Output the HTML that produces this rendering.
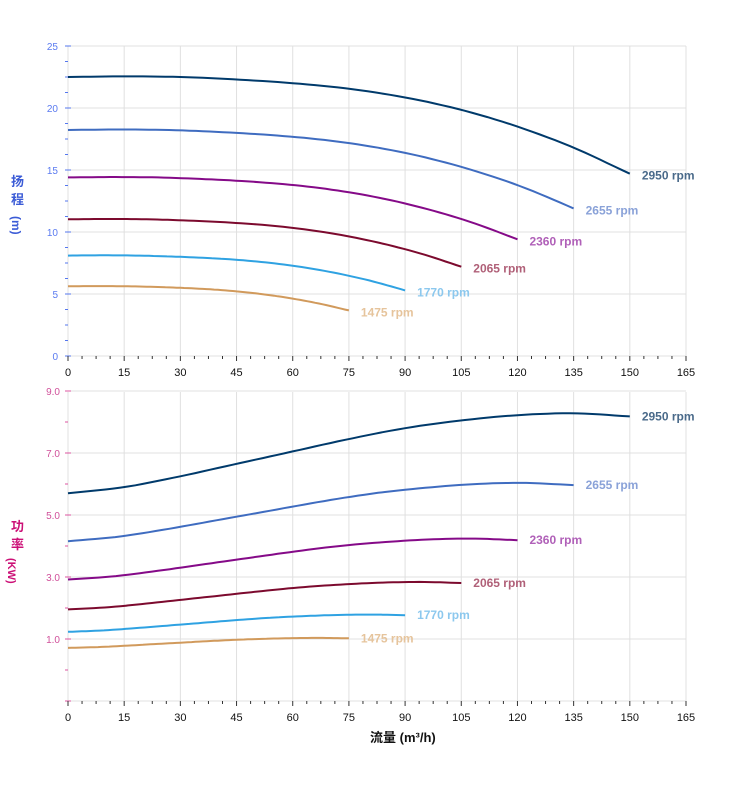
<!DOCTYPE html>
<html><head><meta charset="utf-8"><style>
body{margin:0;background:#fff;}
svg{display:block;font-family:"Liberation Sans","Noto Sans CJK SC",sans-serif;}
</style></head><body>
<svg id="s" width="752" height="797" viewBox="0 0 752 797" xmlns="http://www.w3.org/2000/svg">
<g id="g"></g>
<text x="11" y="186" font-size="13" fill="#3b5bd6" font-weight="bold">扬</text>
<text x="11" y="204" font-size="13" fill="#3b5bd6" font-weight="bold">程</text>
<text transform="translate(12,216) rotate(90)" font-size="12" fill="#3b5bd6" font-weight="bold">(m)</text>
<text x="11" y="531" font-size="13" fill="#cc1177" font-weight="bold">功</text>
<text x="11" y="549" font-size="13" fill="#cc1177" font-weight="bold">率</text>
<text transform="translate(8,558) rotate(90)" font-size="11" fill="#cc1177" font-weight="bold">(KW)</text>
<text x="370" y="742" font-size="13" font-weight="bold" fill="#111">流量 (m³/h)</text>
</svg>
<script>
var g=document.getElementById('g'),h='';
function X(q){return 68+q*618/165;}
function YH(v){return 356-v*310/25;}
function YP(v){return 701-(v+1)*31;}
for(var q=0;q<=165;q+=15){h+='<line x1="'+X(q)+'" y1="46" x2="'+X(q)+'" y2="356" stroke="#e0e0e0"/>';h+='<line x1="'+X(q)+'" y1="392" x2="'+X(q)+'" y2="701" stroke="#e0e0e0"/>';}
for(var v=0;v<=25;v+=5)h+='<line x1="68" y1="'+YH(v)+'" x2="686" y2="'+YH(v)+'" stroke="#e0e0e0"/>';
for(var v=1;v<=9;v+=2)h+='<line x1="68" y1="'+YP(v)+'" x2="686" y2="'+YP(v)+'" stroke="#e0e0e0"/>';
h+='<line x1="68" y1="701" x2="686" y2="701" stroke="#e0e0e0"/>';
for(var v=0;v<=25;v+=1.25){var y=YH(v);h+='<line x1="65" y1="'+y+'" x2="'+(v%5==0?71:68)+'" y2="'+y+'" stroke="#5577ee"/>';}
for(var v=0;v<=25;v+=5)h+='<text x="58" y="'+(YH(v)+4)+'" font-size="10" fill="#5a7af0" text-anchor="end">'+v+'</text>';
for(var v=-1;v<=9;v+=1){var y=YP(v);h+='<line x1="65" y1="'+y+'" x2="'+((v%2!=0)?71:68)+'" y2="'+y+'" stroke="#dd55a0"/>';}
for(var v=1;v<=9;v+=2)h+='<text x="60" y="'+(YP(v)+4)+'" font-size="10" fill="#d0509a" text-anchor="end">'+v.toFixed(1)+'</text>';
[356,701].forEach(function(b){for(var q=0;q<=165;q+=3.75){var x=X(q);h+='<line x1="'+x+'" y1="'+b+'" x2="'+x+'" y2="'+(b+(q%15==0?5:3))+'" stroke="#333"/>';}
for(var q=0;q<=165;q+=15)h+='<text x="'+X(q)+'" y="'+(b+20)+'" font-size="11" fill="#111" text-anchor="middle">'+q+'</text>';});
var HH=[22.5,22.55,22.5,22.3,22.0,21.55,20.85,19.85,18.5,16.8,14.7];
var PP=[5.7,5.9,6.25,6.65,7.05,7.45,7.8,8.05,8.22,8.28,8.18];
function get(arr,i){if(i<0)return 2*arr[0]-arr[1];if(i>10)return 2*arr[10]-arr[9];return arr[i];}
function interp(arr,t){var i=Math.min(9,Math.floor(t/15)),f=(t-i*15)/15;
var p0=get(arr,i-1),p1=arr[i],p2=arr[i+1],p3=get(arr,i+2);
return 0.5*((2*p1)+(-p0+p2)*f+(2*p0-5*p1+4*p2-p3)*f*f+(-p0+3*p1-3*p2+p3)*f*f*f);}
var S=[[2950,'#003a6b','#4a6a8a'],[2655,'#3f6cc0','#8aa2d8'],[2360,'#850a88','#b060b8'],[2065,'#7c0a2e','#b06078'],[1770,'#2fa2e2','#8cc8ee'],[1475,'#d19a5c','#e6c49c']];
S.forEach(function(s){var r=s[0]/2950,a='',b='';
for(var t=0;t<=150;t+=2){var q=t*r,hh=interp(HH,t)*r*r,pp=interp(PP,t)*r*r*r;
a+=(t?'L':'M')+X(q).toFixed(1)+','+YH(hh).toFixed(1);b+=(t?'L':'M')+X(q).toFixed(1)+','+YP(pp).toFixed(1);}
h+='<path d="'+a+'" fill="none" stroke="'+s[1]+'" stroke-width="2"/>';
h+='<path d="'+b+'" fill="none" stroke="'+s[1]+'" stroke-width="2"/>';
var xe=X(150*r)+12;
h+='<text x="'+xe+'" y="'+(YH(14.7*r*r)+6)+'" font-size="12" font-weight="bold" fill="'+s[2]+'">'+s[0]+' rpm</text>';
h+='<text x="'+xe+'" y="'+(YP(8.18*r*r*r)+4)+'" font-size="12" font-weight="bold" fill="'+s[2]+'">'+s[0]+' rpm</text>';});
g.innerHTML=h;
</script>
</body></html>
